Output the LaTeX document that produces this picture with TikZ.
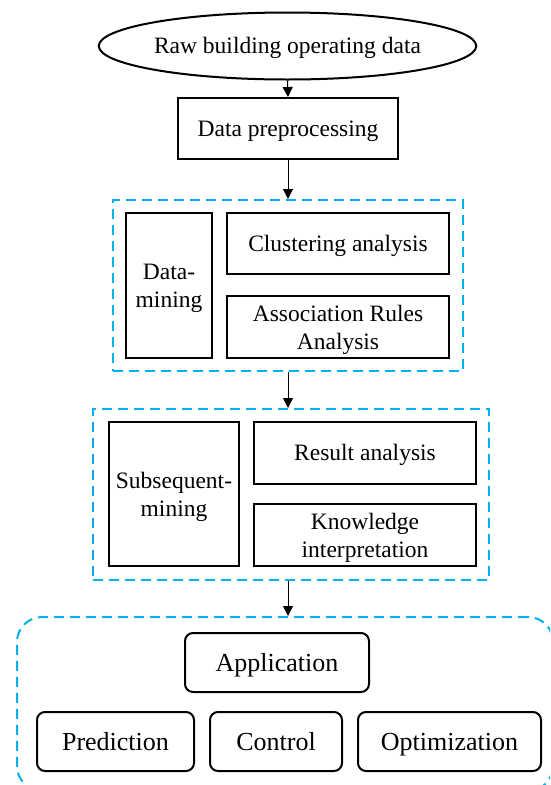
\documentclass[tikz,border=0pt]{standalone}
\usepackage{fontspec}
\setmainfont{Liberation Serif}
\usetikzlibrary{shapes.geometric,arrows.meta}
\definecolor{dashblue}{RGB}{0,176,240}
\begin{document}
\begin{tikzpicture}[x=1pt,y=-1pt,
  box/.style={draw,line width=2pt,inner sep=0pt,align=center,font=\fontsize{23.5}{28}\selectfont,text depth=0pt},
  one/.style={text height=15.5pt},
  rbox/.style={box,rounded corners=8pt,font=\fontsize{26}{30}\selectfont,text height=17pt,text depth=0pt},
  grp/.style={draw=dashblue,line width=2pt,dash pattern=on 10pt off 6pt,inner sep=0pt},
  arr/.style={line width=1pt,-{Triangle[length=10pt,width=10pt]}}]
\useasboundingbox (0,0) rectangle (550,785);
\clip (0,0) rectangle (550,785);
% top
\node[box,one,ellipse,minimum width=349pt,minimum height=67pt] (raw) at (287.5,46) {Raw building operating data};
\node[box,one,minimum width=220pt,minimum height=61pt] (pre) at (288,128.5) {Data preprocessing};
% group 1
\node[grp,minimum width=350pt,minimum height=171pt] (g1) at (288,285.5) {};
\node[box,minimum width=86pt,minimum height=145pt] (dm) at (169,285.5) {Data-\\mining};
\node[box,one,minimum width=222pt,minimum height=61pt] (clu) at (338,243.5) {Clustering analysis};
\node[box,minimum width=222pt,minimum height=62pt] (asr) at (338,327) {Association Rules\\Analysis};
% group 2
\node[grp,minimum width=396pt,minimum height=171pt] (g2) at (291,494.5) {};
\node[box,minimum width=130pt,minimum height=144pt] (sub) at (174,494) {Subsequent-\\mining};
\node[box,one,minimum width=222pt,minimum height=62pt] (res) at (365,453) {Result analysis};
\node[box,minimum width=222pt,minimum height=62pt] (kno) at (365,535) {Knowledge\\interpretation};
% group 3
\node[grp,rounded corners=25pt,minimum width=536pt,minimum height=174pt] (g3) at (285,704) {};
\node[rbox,minimum width=184pt,minimum height=59pt] (app) at (277,662.5) {Application};
\node[rbox,minimum width=157pt,minimum height=59pt] (pred) at (115.5,741.5) {Prediction};
\node[rbox,minimum width=132pt,minimum height=59pt] (ctrl) at (276,741.5) {Control};
\node[rbox,minimum width=183pt,minimum height=59pt] (opt) at (449.5,741.5) {Optimization};
% arrows
\draw[arr] (raw.south) -- (pre.north);
\draw[arr] (pre.south) -- (pre.south |- g1.north);
\draw[arr] (g1.south) -- (g1.south |- g2.north);
\draw[arr] (g1.south |- g2.south) -- (g1.south |- g3.north);
\end{tikzpicture}
\end{document}
